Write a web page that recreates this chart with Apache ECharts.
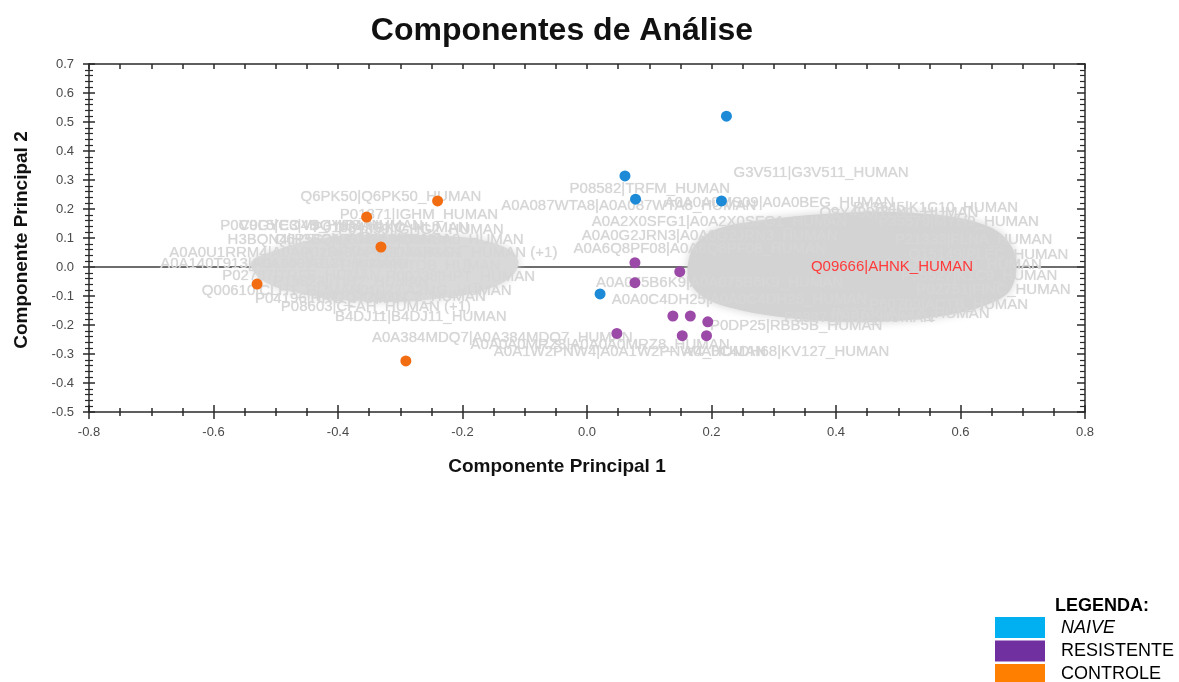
<!DOCTYPE html>
<html>
<head>
<meta charset="utf-8">
<title>Componentes de Análise</title>
<script src="https://cdn.jsdelivr.net/npm/echarts@6/dist/echarts.min.js"></script>
<style>
  html, body { margin: 0; padding: 0; background: #ffffff; }
  #chart { width: 1179px; height: 682px; }
</style>
</head>
<body>
<div id="chart"></div>
<script>
// Axis ranges and tick steps
const xRange = [-0.8, 0.8];
const yRange = [-0.5, 0.7];
const xStep = 0.2;
const yStep = 0.1;

// Sample scores (PC1, PC2) per group
const naiveX = [0.224, 0.061, 0.078, 0.216, 0.021];
const naiveY = [0.520, 0.314, 0.234, 0.228, -0.093];
const resistenteX = [0.077, 0.149, 0.077, 0.138, 0.166, 0.194, 0.048, 0.153, 0.192];
const resistenteY = [0.015, -0.016, -0.054, -0.169, -0.169, -0.189, -0.229, -0.237, -0.237];
const controleX = [-0.240, -0.354, -0.331, -0.530, -0.291];
const controleY = [0.228, 0.172, 0.069, -0.059, -0.324];

// Dense protein loading clouds (outline of the overlapping label mass)
const rightCloudX = [0.162, 0.173, 0.205, 0.261, 0.357, 0.453, 0.549, 0.613, 0.661, 0.685, 0.690, 0.680, 0.653, 0.597, 0.517, 0.421, 0.325, 0.245, 0.189, 0.165];
const rightCloudY = [0.007, 0.076, 0.128, 0.155, 0.179, 0.190, 0.183, 0.162, 0.121, 0.059, -0.003, -0.079, -0.121, -0.159, -0.183, -0.190, -0.176, -0.148, -0.107, -0.052];
const leftCloudX = [-0.540, -0.500, -0.450, -0.379, -0.267, -0.180, -0.125, -0.110, -0.125, -0.165, -0.225, -0.299, -0.390, -0.465, -0.520];
const leftCloudY = [0.015, 0.058, 0.090, 0.110, 0.110, 0.097, 0.060, 0.015, -0.040, -0.080, -0.105, -0.120, -0.115, -0.090, -0.048];

// Protein loading labels
const loadingNames = [
  'Q6PK50|Q6PK50_HUMAN', 'P01871|IGHM_HUMAN', 'V9GYE3|V9GYE3_HUMAN', 'P01834|IGKC_HUMAN',
  'H3BQN4|H3BQN4_HUMAN', 'Q9NSA0|Q9NSA0_HUMAN', 'A0A0U1RRM4|A0A0U1RRM4_HUMAN', 'P0DOX5|IGG1_HUMAN (+1)',
  'A0A140T913|A0A140T913_HUMAN', 'P02787|TRFE_HUMAN', 'P00738|HPT_HUMAN', 'Q00610|CLH1_HUMAN',
  'P01023|A2MG_HUMAN', 'P08603|CFAH_HUMAN (+1)', 'B4DJ11|B4DJ11_HUMAN',
  'P0C0L5|CO4B_HUMAN', 'P01859|IGHG2_HUMAN', 'Q6P5S2|LEG1H_HUMAN', 'P02649|APOE_HUMAN',
  'P01009|A1AT_HUMAN', 'P02774|VTDB_HUMAN', 'P19823|ITIH2_HUMAN', 'P0DOY2|IGLC2_HUMAN', 'P04196|HRG_HUMAN',
  'P08582|TRFM_HUMAN', 'A0A087WTA8|A0A087WTA8_HUMAN', 'A0A0A0MS09|A0A0BEG_HUMAN', 'G3V511|G3V511_HUMAN',
  'A0A2X0SFG1|A0A2X0SFG1_HUMAN', 'A0A0G2JRN3|A0A0G2JRN3_HUMAN', 'A0A6Q8PF08|A0A6Q8PF08_HUMAN',
  'A0A075B6K9|A0A075B6K9_HUMAN', 'A0A0C4DH25|A0A0C4DH25_HUMAN', 'P0DP25|RBB5B_HUMAN',
  'A0A384MDQ7|A0A384MDQ7_HUMAN', 'A0A0A0MRZ8|A0A0A0MRZ8_HUMAN', 'A0A1W2PNW4|A0A1W2PNW4_HUMAN',
  'A0A0C4DH68|KV127_HUMAN',
  'Q9Y490|TLN1_HUMAN', 'P35579|MYH9_HUMAN', 'P21333|FLNA_HUMAN', 'Q15149|PLEC_HUMAN',
  'P04264|K2C1_HUMAN', 'P02751|FINC_HUMAN', 'P60709|ACTB_HUMAN', 'P68871|HBB_HUMAN',
  'P13645|K1C10_HUMAN', 'P35527|K1C9_HUMAN', 'P62736|ACTA_HUMAN'
];
const loadingX = [
  -0.315, -0.270, -0.411, -0.315,
  -0.427, -0.251, -0.459, -0.203,
  -0.491, -0.459, -0.203, -0.491,
  -0.251, -0.339, -0.267,
  -0.459, -0.267, -0.363, -0.331,
  -0.411, -0.267, -0.379, -0.299, -0.411,
  0.101, 0.067, 0.309, 0.376,
  0.213, 0.197, 0.181,
  0.213, 0.245, 0.336,
  -0.136, 0.021, 0.069,
  0.320,
  0.501, 0.597, 0.621, 0.645,
  0.605, 0.653, 0.581, 0.437,
  0.560, 0.630, 0.520
];
const loadingY = [
  0.241, 0.179, 0.141, 0.134,
  0.093, 0.093, 0.048, 0.048,
  0.010, -0.031, -0.034, -0.083,
  -0.083, -0.138, -0.172,
  0.141, 0.128, 0.093, 0.048,
  0.010, 0.003, -0.052, -0.103, -0.110,
  0.269, 0.210, 0.221, 0.324,
  0.155, 0.107, 0.062,
  -0.055, -0.114, -0.203,
  -0.245, -0.269, -0.293,
  -0.293,
  0.186, 0.155, 0.093, 0.041,
  0.007, -0.079, -0.131, -0.176,
  0.203, -0.030, -0.160
];

// Highlighted loading
const highlightName = 'Q09666|AHNK_HUMAN';
const highlightX = 0.490;
const highlightY = 0.000;

const legendNames = ['NAIVE', 'RESISTENTE', 'CONTROLE'];
const legendColors = ['#00b0f0', '#7030a0', '#ff8000'];

const FONT = '"Liberation Sans", Arial, Helvetica, sans-serif';
const AXIS_COLOR = '#2a2a2a';

function pairs(xs, ys) { return xs.map((x, i) => [x, ys[i]]); }

function cloudSeries(xs, ys, fill) {
  return {
    type: 'custom',
    coordinateSystem: 'cartesian2d',
    z: 2,
    silent: true,
    data: [[xs[0], ys[0]]],
    renderItem: function (params, api) {
      const pts = xs.map((x, i) => api.coord([x, ys[i]]));
      return {
        type: 'polygon',
        shape: { points: pts, smooth: 0.35 },
        style: { fill: fill, shadowBlur: 10, shadowColor: fill }
      };
    }
  };
}

function labelSeries(names, xs, ys, color, z, blur) {
  return {
    type: 'custom',
    coordinateSystem: 'cartesian2d',
    z: z,
    silent: true,
    data: pairs(xs, ys),
    renderItem: function (params, api) {
      const p = api.coord([api.value(0), api.value(1)]);
      return {
        type: 'text',
        x: p[0],
        y: p[1],
        style: {
          text: names[params.dataIndex],
          fill: color,
          font: '15px ' + FONT,
          align: 'center',
          verticalAlign: 'middle',
          textShadowBlur: blur,
          textShadowColor: color
        }
      };
    }
  };
}

function pointSeries(name, xs, ys, color) {
  return {
    name: name,
    type: 'scatter',
    z: 6,
    symbol: 'circle',
    symbolSize: 11,
    itemStyle: { color: color, opacity: 1 },
    data: pairs(xs, ys)
  };
}

const baseX = { type: 'value', min: xRange[0], max: xRange[1], interval: xStep, splitLine: { show: false } };
const baseY = { type: 'value', min: yRange[0], max: yRange[1], interval: yStep, splitLine: { show: false } };

const chart = echarts.init(document.getElementById('chart'), null, { renderer: 'canvas' });

const option = {
  backgroundColor: '#ffffff',
  animation: false,
  title: {
    text: 'Componentes de Análise',
    left: 557,
    top: 10,
    textAlign: 'center',
    textStyle: { fontFamily: FONT, fontSize: 32, fontWeight: 'bold', color: '#111111' }
  },
  grid: { left: 89, right: 94, top: 64, bottom: 270, containLabel: false },
  xAxis: [
    Object.assign({}, baseX, {
      position: 'bottom',
      axisLine: { show: true, onZero: false, lineStyle: { color: AXIS_COLOR, width: 1.5 } },
      axisTick: { show: true, inside: false, length: 7, lineStyle: { color: AXIS_COLOR, width: 1.5 } },
      minorTick: { show: true, splitNumber: 4, length: 4, lineStyle: { color: AXIS_COLOR, width: 1.5 } },
      axisLabel: { show: true, margin: 14, fontFamily: FONT, fontSize: 13, color: '#4a4a4a',
        formatter: v => v.toFixed(1) }
    }),
    Object.assign({}, baseX, {
      position: 'bottom',
      axisLine: { show: false, onZero: false },
      axisTick: { show: true, inside: true, length: 7, lineStyle: { color: AXIS_COLOR, width: 1.5 } },
      minorTick: { show: true, splitNumber: 4, length: 4, lineStyle: { color: AXIS_COLOR, width: 1.5 } },
      axisLabel: { show: false }
    }),
    Object.assign({}, baseX, {
      position: 'top',
      interval: 0.05,
      axisLine: { show: true, onZero: false, lineStyle: { color: AXIS_COLOR, width: 1.5 } },
      axisTick: { show: true, inside: true, length: 5, lineStyle: { color: AXIS_COLOR, width: 1.5 } },
      axisLabel: { show: false }
    })
  ],
  yAxis: [
    Object.assign({}, baseY, {
      position: 'left',
      axisLine: { show: true, onZero: false, lineStyle: { color: AXIS_COLOR, width: 1.5 } },
      axisTick: { show: true, inside: false, length: 6, lineStyle: { color: AXIS_COLOR, width: 1.5 } },
      minorTick: { show: true, splitNumber: 5, length: 4, lineStyle: { color: AXIS_COLOR, width: 1.2 } },
      axisLabel: { show: true, margin: 15, fontFamily: FONT, fontSize: 13, color: '#4a4a4a',
        formatter: v => v.toFixed(1) }
    }),
    Object.assign({}, baseY, {
      position: 'left',
      axisLine: { show: false, onZero: false },
      axisTick: { show: true, inside: true, length: 6, lineStyle: { color: AXIS_COLOR, width: 1.5 } },
      minorTick: { show: true, splitNumber: 5, length: 4, lineStyle: { color: AXIS_COLOR, width: 1.2 } },
      axisLabel: { show: false }
    }),
    Object.assign({}, baseY, {
      position: 'right',
      axisLine: { show: true, onZero: false, lineStyle: { color: AXIS_COLOR, width: 1.5 } },
      axisTick: { show: true, inside: true, length: 8, lineStyle: { color: AXIS_COLOR, width: 1.5 } },
      minorTick: { show: true, splitNumber: 5, length: 5, lineStyle: { color: AXIS_COLOR, width: 1.2 } },
      axisLabel: { show: false }
    })
  ],
  series: [
    {
      type: 'line',
      z: 1,
      silent: true,
      symbol: 'none',
      lineStyle: { color: '#3c3c3c', width: 1.5 },
      data: [[xRange[0], 0], [xRange[1], 0]]
    },
    cloudSeries(leftCloudX, leftCloudY, '#d9d9d9'),
    cloudSeries(rightCloudX, rightCloudY, '#d3d3d3'),
    labelSeries(loadingNames, loadingX, loadingY, '#d6d6d6', 3, 1),
    labelSeries([highlightName], [highlightX], [highlightY], '#ff3a3a', 4, 0),
    pointSeries('NAIVE', naiveX, naiveY, '#1c8ad6'),
    pointSeries('RESISTENTE', resistenteX, resistenteY, '#9c4aa7'),
    pointSeries('CONTROLE', controleX, controleY, '#f26c12')
  ],
  graphic: [
    {
      type: 'text', x: 557, y: 467,
      style: { text: 'Componente Principal 1', font: 'bold 19px ' + FONT, fill: '#111111',
        align: 'center', verticalAlign: 'middle' }
    },
    {
      type: 'text', x: 22, y: 240, rotation: Math.PI / 2,
      style: { text: 'Componente Principal 2', font: 'bold 19px ' + FONT, fill: '#111111',
        align: 'center', verticalAlign: 'middle' }
    },
    {
      type: 'text', x: 1055, y: 606,
      style: { text: 'LEGENDA:', font: 'bold 18px ' + FONT, fill: '#000000',
        align: 'left', verticalAlign: 'middle' }
    }
  ].concat(legendNames.flatMap((name, i) => [
    {
      type: 'rect',
      shape: { x: 995, y: 617 + i * 23.5, width: 50, height: 21 },
      style: { fill: legendColors[i] }
    },
    {
      type: 'text', x: 1061, y: 628 + i * 23,
      style: { text: name, font: (i === 0 ? 'italic ' : '') + '18px ' + FONT, fill: '#000000',
        align: 'left', verticalAlign: 'middle' }
    }
  ]))
};

chart.setOption(option);
</script>
</body>
</html>
